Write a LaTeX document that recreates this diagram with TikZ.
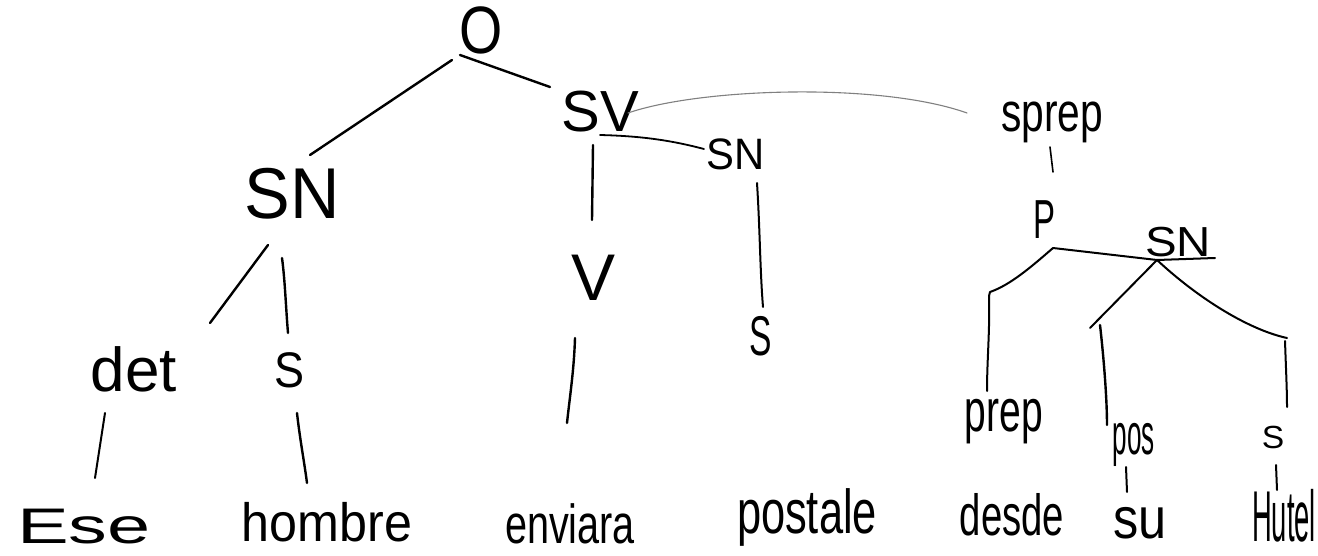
\documentclass[tikz,border=0pt]{standalone}
\usepackage{fontspec}
\setmainfont{Liberation Sans}
\newcommand{\handw}[3]{\fontsize{#1}{#1}\selectfont\scalebox{#2}[1]{#3}}
\tikzset{
  lbl/.style={inner sep=0pt, outer sep=0pt, anchor=center, text=black},
  br/.style={line width=2.4pt, line cap=round, line join=round, draw=black},
  faint/.style={line width=1.1pt, line cap=round, draw=black!50},
}
\begin{document}
\begin{tikzpicture}[x=1pt,y=-1pt]
\useasboundingbox[fill=white] (0,0) rectangle (1318,556);

% ---------- labels ----------
\node[lbl] (O)    at (481,30)  {\handw{67}{0.83}{O}};
\node[lbl] (SV)   at (600,112) {\handw{58}{1.0}{SV}};
\node[lbl] (SNa)  at (292,194) {\handw{72}{0.95}{SN}};
\node[lbl] (V)    at (594,278) {\handw{66}{1.0}{V}};
\node[lbl] (SNb)  at (736,154) {\handw{44}{0.95}{SN}};
\node[lbl] (Sb)   at (761,336) {\handw{56}{0.6}{S}};
\node[lbl] (sprep) at (1052,122) {\handw{55}{0.74}{sprep}};
\node[lbl] (P)    at (1044,220) {\handw{55}{0.6}{P}};
\node[lbl] (SNc)  at (1178,242) {\handw{42}{1.13}{SN}};
\node[lbl] (det)  at (134,369) {\handw{62}{1.0}{det}};
\node[lbl] (Sa)   at (290,370) {\handw{50}{0.9}{S}};
\node[lbl] (prep) at (1004,422) {\handw{60}{0.65}{prep}};
\node[lbl] (pos)  at (1134,445) {\handw{58}{0.45}{pos}};
\node[lbl] (Sc)   at (1273,437) {\handw{32}{1.05}{S}};
\node[lbl] (Ese)  at (84,527)  {\handw{50}{1.55}{Ese}};
\node[lbl] (hombre) at (327,522) {\handw{54}{0.93}{hombre}};
\node[lbl] (enviara) at (570,524) {\handw{55}{0.72}{enviara}};
\node[lbl] (postale) at (807,517) {\handw{62}{0.7}{postale}};
\node[lbl] (desde) at (1012,515) {\handw{58}{0.66}{desde}};
\node[lbl] (su)   at (1140,523) {\handw{58}{0.87}{su}};
\node[lbl] (Hutel) at (1284,516) {\handw{72}{0.38}{Hutel}};

% ---------- connector end points ----------
\coordinate (O-sw) at (452,60);
\coordinate (O-se) at (460,55);
\coordinate (SNa-n) at (310,155);
\coordinate (SV-nw) at (550,87);
\coordinate (SV-s) at (593,145);
\coordinate (V-n) at (592,220);
\coordinate (SV-u) at (600,135);
\coordinate (SNb-w) at (704,149);
\coordinate (SV-e) at (628,113);
\coordinate (sprep-w) at (967,113);
\coordinate (SNb-s) at (757,183);
\coordinate (Sb-n) at (763,307);
\coordinate (V-s) at (575,338);
\coordinate (enviara-n) at (567,423);
\coordinate (SNa-sw) at (268,245);
\coordinate (det-n) at (210,323);
\coordinate (SNa-s) at (282,258);
\coordinate (Sa-n) at (288,333);
\coordinate (det-s) at (105,413);
\coordinate (Ese-n) at (95,478);
\coordinate (Sa-s) at (297,413);
\coordinate (hombre-n) at (307,483);
\coordinate (sprep-s) at (1050,147);
\coordinate (P-n) at (1053,172);
\coordinate (P-s) at (1053,248);
\coordinate (SNc-s) at (1157,260);
\coordinate (SNc-e) at (1215,258);
\coordinate (prep-k) at (990,292);
\coordinate (prep-n) at (987,391);
\coordinate (pos-k) at (1090,328);
\coordinate (pos-t) at (1100,325);
\coordinate (pos-n) at (1107,425);
\coordinate (Sc-k) at (1287,338);
\coordinate (Sc-t) at (1285,341);
\coordinate (Sc-n) at (1287,407);
\coordinate (pos-s) at (1126,467);
\coordinate (su-n) at (1127,492);
\coordinate (Sc-s) at (1276,465);
\coordinate (Hutel-n) at (1277,490);

% ---------- connectors ----------
\draw[br] (O-sw) -- (SNa-n);
\draw[br] (O-se) -- (SV-nw);
\draw[br] (SV-s) -- (V-n);
\draw[br, line width=1.8pt] (SV-u) .. controls (640,136) and (670,140) .. (SNb-w);
\draw[faint] (SV-e) .. controls (700,88) and (880,82) .. (sprep-w);
\draw[br, line width=2pt] (SNb-s) .. controls (760,230) and (760,270) .. (Sb-n);
\draw[br] (V-s) .. controls (574,370) and (570,395) .. (enviara-n);
\draw[br] (SNa-sw) -- (det-n);
\draw[br] (SNa-s) .. controls (285,280) and (286,310) .. (Sa-n);
\draw[br, line width=2pt] (det-s) -- (Ese-n);
\draw[br] (Sa-s) .. controls (300,440) and (304,460) .. (hombre-n);
\draw[br, line width=1.6pt] (sprep-s) -- (P-n);
\draw[br, line width=2pt] (P-s) -- (SNc-s) -- (SNc-e);
\draw[br, line width=2pt] (P-s) .. controls (1030,268) and (1010,285) .. (prep-k) -- (989,296) .. controls (990,330) and (987,360) .. (prep-n);
\draw[br, line width=2pt] (SNc-s) -- (pos-k);
\draw[br] (pos-t) .. controls (1104,360) and (1107,400) .. (pos-n);
\draw[br, line width=2pt] (SNc-s) .. controls (1200,300) and (1250,330) .. (Sc-k);
\draw[br, line width=2pt] (Sc-t) .. controls (1286,370) and (1287,390) .. (Sc-n);
\draw[br, line width=2pt] (pos-s) -- (su-n);
\draw[br, line width=2pt] (Sc-s) -- (Hutel-n);
\end{tikzpicture}
\end{document}
